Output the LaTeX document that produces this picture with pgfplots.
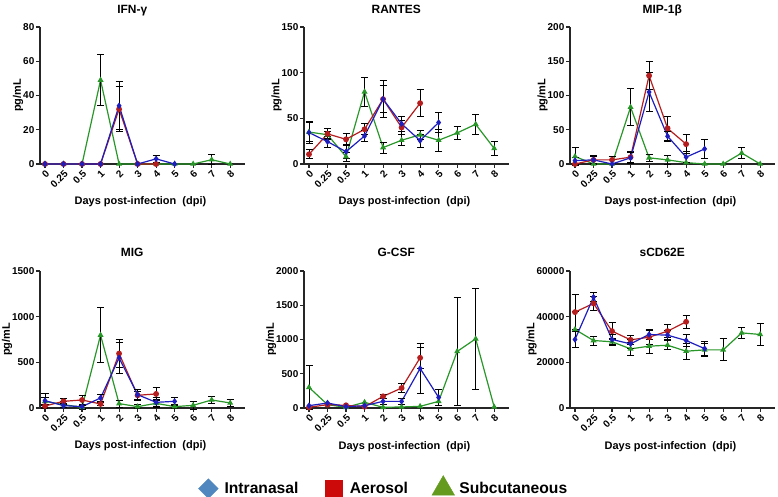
\documentclass[border=0pt]{standalone}
\usepackage{pgfplots}
\pgfplotsset{compat=1.18}
\usepackage{fontspec}
\setmainfont{Liberation Sans}

\definecolor{cIN}{RGB}{30,30,190}
\definecolor{cAE}{RGB}{180,30,30}
\definecolor{cSC}{RGB}{40,150,40}
\definecolor{lIN}{RGB}{80,135,190}
\definecolor{lAE}{RGB}{205,10,10}
\definecolor{lSC}{RGB}{100,155,30}

\pgfplotsset{
  panel/.style={
    scale only axis, width=205bp, height=137bp,
    xmin=-0.27, xmax=10.8, ymin=0,
    axis lines*=left,
    axis line style={line width=1.1bp, black!85},
    tick style={line width=1.1bp, black!85},
    tick align=outside, major tick length=4bp,
    xtick={0,...,10},
    xticklabels={0,0.25,0.5,1,2,3,4,5,6,7,8},
    x tick label style={rotate=45, anchor=north east, inner sep=1bp,
      font=\bfseries\fontsize{10}{11}\selectfont},
    y tick label style={inner sep=1.5bp, font=\bfseries\fontsize{10}{11}\selectfont,
      /pgf/number format/1000 sep={}},
    scaled y ticks=false,
    /pgf/number format/assume math mode=true,
    xlabel={Days post-infection\ \ (dpi)},
    ylabel={pg/mL},
    ylabel shift=-5bp,
    label style={font=\bfseries\fontsize{11}{12}\selectfont},
    xlabel style={at={(0.49,0)}, anchor=base, yshift=-41bp},
    title style={font=\bfseries\fontsize{12}{13}\selectfont, at={(0.45,1)}, anchor=base, yshift=8bp},
    clip=false,
  },
  ser/.style={line width=1.2bp, color=#1, mark size=2.3bp,
    mark options={solid, fill=#1},
    error bars/y dir=both, error bars/y explicit,
    error bars/error bar style={black, line width=0.9bp},
    error bars/error mark options={black, mark size=3.5bp, line width=0.9bp, rotate=90}},
  IN/.style={ser=cIN, mark=diamond*},
  AE/.style={ser=cAE, mark=*},
  SC/.style={ser=cSC, mark=triangle*},
}

\begin{document}
\begin{tikzpicture}
\path[use as bounding box] (0,0) rectangle (778bp,497bp);

% IFN-gamma
\begin{axis}[panel, at={(40bp,333bp)}, anchor=south west,
  ymax=80, ytick={0,20,40,60,80}, title={IFN-γ}]
\addplot[SC] coordinates {(0,0) (1,0) (2,0) (3,49) +- (0,15) (4,0) (5,0) (6,0) (7,0) (8,0) (9,2.5) +- (0,3) (10,0)};
\addplot[AE] coordinates {(0,0) (1,0) (2,0) (3,0) (4,32) +- (0,13) (5,0) (6,0)};
\addplot[IN] coordinates {(0,0) (1,0) (2,0) (3,0) (4,34) +- (0,14) (5,0) (6,3) +- (0,2) (7,0)};
\end{axis}

% RANTES
\begin{axis}[panel, at={(304bp,333bp)}, anchor=south west,
  ymax=150, ytick={0,50,100,150}, title={RANTES}]
\addplot[SC] coordinates {(0,35) +- (0,10) (1,32) +- (0,4) (2,8) +- (0,5) (3,79) +- (0,16) (4,18) +- (0,6) (5,26) +- (0,6) (6,32) +- (0,5) (7,26) +- (0,12) (8,34) +- (0,7) (9,43.5) +- (0,11) (10,17) +- (0,8)};
\addplot[AE] coordinates {(0,10.6) +- (0,5) (1,33) +- (0,6) (2,27) +- (0,6) (3,38) +- (0,6) (4,71) +- (0,20) (5,40) +- (0,8) (6,66.6) +- (0,15)};
\addplot[IN] coordinates {(0,34.4) +- (0,12) (1,24.5) +- (0,6) (2,13.5) +- (0,7) (3,30.7) +- (0,6) (4,71) +- (0,15) (5,44) +- (0,8) (6,25.6) +- (0,7) (7,45.4) +- (0,11)};
\end{axis}

% MIP-1beta
\begin{axis}[panel, at={(570bp,333bp)}, anchor=south west,
  ymax=200, ytick={0,50,100,150,200}, title={MIP-1β}]
\addplot[SC] coordinates {(0,11) +- (0,13) (1,0) (2,0) (3,83) +- (0,27) (4,9) +- (0,5) (5,6) +- (0,6) (6,2) (7,0) (8,0) (9,16) +- (0,8) (10,0)};
\addplot[AE] coordinates {(0,0) (1,6) +- (0,5) (2,6) +- (0,5) (3,10) +- (0,8) (4,129) +- (0,20) (5,52) +- (0,17) (6,29) +- (0,14)};
\addplot[IN] coordinates {(0,5) +- (0,5) (1,6) +- (0,6) (2,0) (3,9) +- (0,8) (4,105) +- (0,29) (5,40.5) +- (0,7) (6,10) +- (0,8) (7,22) +- (0,14)};
\end{axis}

% MIG
\begin{axis}[panel, at={(40bp,89bp)}, anchor=south west,
  ymax=1500, ytick={0,500,1000,1500}, title={MIG}, title style={yshift=1bp}]
\addplot[SC] coordinates {(0,73) +- (0,40) (1,37) +- (0,30) (2,7) +- (0,20) (3,798) +- (0,300) (4,48) +- (0,40) (5,15) +- (0,20) (6,51) +- (0,40) (7,15) +- (0,20) (8,29) +- (0,40) (9,88) +- (0,40) (10,55) +- (0,40)};
\addplot[AE] coordinates {(0,22) +- (0,20) (1,73) +- (0,30) (2,88) +- (0,50) (3,44) +- (0,20) (4,596) +- (0,150) (5,139) +- (0,40) (6,154) +- (0,70)};
\addplot[IN] coordinates {(0,80) +- (0,80) (1,26) +- (0,20) (2,15) +- (0,15) (3,110) +- (0,40) (4,549) +- (0,170) (5,146) +- (0,60) (6,62) +- (0,50) (7,73) +- (0,40)};
\end{axis}

% G-CSF (with legend)
\begin{axis}[panel, at={(304bp,89bp)}, anchor=south west,
  ymax=2000, ytick={0,500,1000,1500,2000}, title={G-CSF}, title style={yshift=1bp},
  legend columns=3,
  legend style={at={(-0.527,-0.577)}, anchor=west, draw=none, fill=none, inner sep=0pt,
    font=\bfseries\fontsize{15.7}{17}\selectfont,
    /tikz/every even column/.append style={column sep=21bp}},
  legend image code/.code={\path (-2bp,0bp) (24bp,0bp); \path[#1] plot coordinates {(10bp,0bp)};},
  legend entries={Intranasal, Aerosol, Subcutaneous}]
\addlegendimage{only marks, mark=square*, mark size=7bp, mark options={rotate=45, fill=lIN, draw=lIN}}
\addlegendimage{only marks, mark=square*, mark size=8.5bp, mark options={fill=lAE, draw=lAE}}
\addlegendimage{only marks, mark=triangle*, mark size=13bp, mark options={fill=lSC, draw=lSC}}
\addplot[SC, forget plot] coordinates {(0,301) +- (0,320) (1,49) (2,10) (3,83) (4,10) (5,15) (6,24) (7,97) (8,825) +- (0,790) (9,1010) +- (0,740) (10,15)};
\addplot[AE, forget plot] coordinates {(0,10) (1,49) (2,39) (3,19) (4,170) +- (0,30) (5,291) +- (0,70) (6,733) +- (0,150)};
\addplot[IN, forget plot] coordinates {(0,34) (1,73) (2,19) (3,34) (4,97) +- (0,40) (5,97) +- (0,40) (6,578) +- (0,370) (7,155) +- (0,120)};
\end{axis}

% sCD62E
\begin{axis}[panel, at={(570bp,89bp)}, anchor=south west,
  ymax=60000, ytick={0,20000,40000,60000}, title={sCD62E}, title style={yshift=1bp}]
\addplot[SC] coordinates {(0,34400) +- (0,8000) (1,29550) +- (0,2000) (2,29000) +- (0,1500) (3,25900) +- (0,3000) (4,27070) +- (0,3000) (5,27500) +- (0,2000) (6,24870) +- (0,3400) (7,25450) +- (0,3000) (8,25450) +- (0,4800) (9,32900) +- (0,2500) (10,32200) +- (0,5000)};
\addplot[AE] coordinates {(0,42000) +- (0,7800) (1,45800) +- (0,3000) (2,33650) +- (0,3600) (3,29850) +- (0,2000) (4,31000) +- (0,3000) (5,33650) +- (0,2800) (6,37750) +- (0,2800)};
\addplot[IN] coordinates {(0,30000) +- (0,3500) (1,48570) +- (0,2000) (2,30000) +- (0,2000) (3,28100) +- (0,2000) (4,32200) +- (0,2000) (5,31900) +- (0,2000) (6,29550) +- (0,2500) (7,26000) +- (0,3000)};
\end{axis}
\end{tikzpicture}
\end{document}
